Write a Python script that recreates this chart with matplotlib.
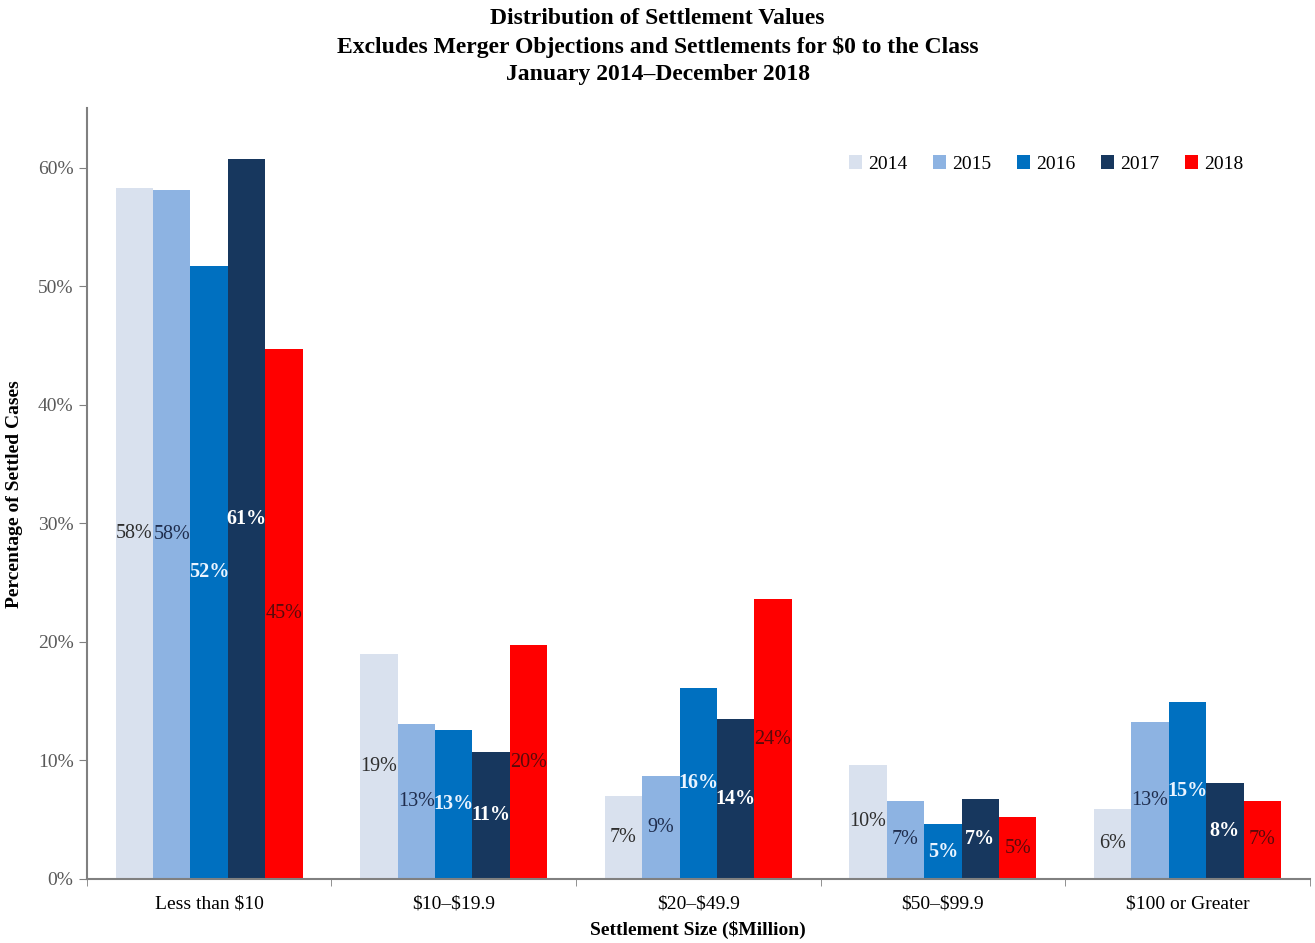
import matplotlib.pyplot as plt
import numpy as np
from matplotlib.ticker import PercentFormatter

plt.rcParams['font.family'] = ['Liberation Serif', 'DejaVu Serif']

categories = ['Less than $10', '$10\u2013$19.9', '$20\u2013$49.9', '$50\u2013$99.9', '$100 or Greater']
years = ['2014', '2015', '2016', '2017', '2018']
pct_2014 = [58.3, 19.0, 7.0, 9.6, 5.9]
pct_2015 = [58.1, 13.1, 8.7, 6.6, 13.2]
pct_2016 = [51.7, 12.6, 16.1, 4.6, 14.9]
pct_2017 = [60.7, 10.7, 13.5, 6.7, 8.1]
pct_2018 = [44.7, 19.7, 23.6, 5.2, 6.6]

series = [pct_2014, pct_2015, pct_2016, pct_2017, pct_2018]
colors = ['#D9E1EE', '#8DB3E2', '#0070C0', '#17375E', '#FF0000']
label_colors = ['#2E2E2E', '#1F2D4D', '#EAF4FF', '#FFFFFF', '#5A0A0A']
label_weights = ['normal', 'normal', 'bold', 'bold', 'normal']

fig = plt.figure(figsize=(13.15, 9.43), dpi=100)
ax = fig.add_axes([0.066, 0.068, 0.93, 0.817])

x = np.arange(len(categories))
width = 0.153
for i, (vals, yr) in enumerate(zip(series, years)):
    pos = x + (i - 2) * width
    bars = ax.bar(pos, vals, width, color=colors[i], label=yr, linewidth=0)
    for b, v in zip(bars, vals):
        ax.text(b.get_x() + b.get_width() / 2, v / 2, f'{v:.0f}%',
                ha='center', va='center', fontsize=14.5,
                color=label_colors[i], fontweight=label_weights[i])

ax.set_xlim(-0.5, len(categories) - 0.5)
ax.set_ylim(0, 65)
ax.set_yticks(np.arange(0, 61, 10))
ax.yaxis.set_major_formatter(PercentFormatter(decimals=0))
ax.set_xticks(x)
# escape the dollar signs so they aren't read as mathtext
ax.set_xticklabels([c.replace('$', r'\$') for c in categories], fontsize=14)
ax.set_xticks(np.arange(-0.5, len(categories)), minor=True)
ax.tick_params(axis='x', which='major', length=0, pad=12)
ax.tick_params(axis='x', which='minor', length=5, color='#808080')
ax.tick_params(axis='y', labelsize=14, labelcolor='#595959', color='#808080', length=6)

for s in ['top', 'right']:
    ax.spines[s].set_visible(False)
for s in ['left', 'bottom']:
    ax.spines[s].set_color('#808080')
    ax.spines[s].set_linewidth(1.5)

ax.set_xlabel(r'Settlement Size (\$Million)', fontsize=14, fontweight='bold', labelpad=6)
ax.set_ylabel('Percentage of Settled Cases', fontsize=14, fontweight='bold', labelpad=11)

ax.legend(loc='upper right', bbox_to_anchor=(0.96, 0.962), ncol=5, frameon=False,
          fontsize=14, handlelength=0.7, handleheight=0.7, handletextpad=0.3,
          columnspacing=1.3)

fig.text(0.5, 0.991, 'Distribution of Settlement Values\n'
         r'Excludes Merger Objections and Settlements for \$0 to the Class' '\n'
         'January 2014\u2013December 2018',
         ha='center', va='top', fontsize=17, fontweight='bold', linespacing=1.38)

fig.savefig('out.png', dpi=100)
